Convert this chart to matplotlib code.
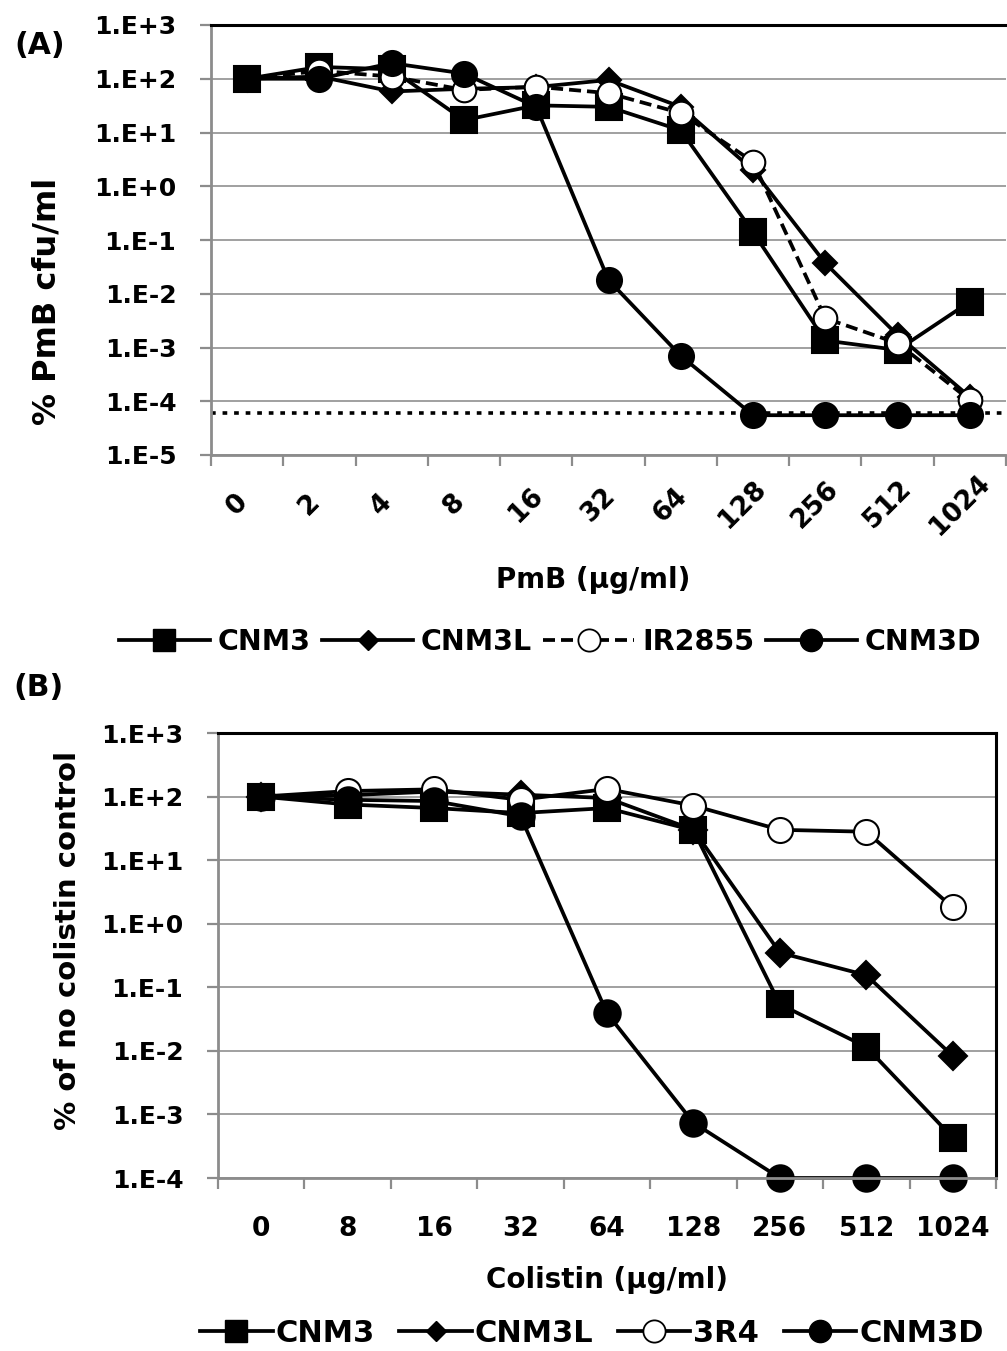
import numpy as np
import matplotlib
matplotlib.use("Agg")
import matplotlib.pyplot as plt
from matplotlib.ticker import NullLocator

plt.rcParams['font.family'] = ['DejaVu Sans']
plt.rcParams['font.weight'] = 'bold'

# Panel A: PmB
pmb_doses = ['0', '2', '4', '8', '16', '32', '64', '128', '256', '512', '1024']
a_cnm3 = [100, 166, 150, 17, 32, 30, 11, 0.14, 0.00135, 0.0009, 0.0071]
a_cnm3l = [100, 110, 58, 65, 70, 95, 30, 2.0, 0.037, 0.0017, 0.00012]
a_ir2855 = [100, 140, 110, 62, 71, 54, 23, 2.85, 0.0035, 0.0012, 0.000105]
a_cnm3d = [100, 100, 195, 125, 30, 0.018, 0.0007, 5.5e-5, 5.5e-5, 5.5e-5, 5.5e-5]
a_limit = 6e-5

# Panel B: colistin
col_doses = ['0', '8', '16', '32', '64', '128', '256', '512', '1024']
b_cnm3 = [100, 75, 66, 55, 66, 29.5, 0.054, 0.0115, 0.00043]
b_cnm3l = [100, 105, 120, 107, 95, 30, 0.35, 0.155, 0.0083]
b_3r4 = [100, 122, 130, 89, 132, 72, 30, 28, 1.8]
b_cnm3d = [100, 89, 85, 49, 0.039, 0.00074, 1e-4, 1e-4, 1e-4]

a_yticks = [1e-5, 1e-4, 1e-3, 1e-2, 1e-1, 1e0, 1e1, 1e2, 1e3]
a_ylabels = ['1.E-5', '1.E-4', '1.E-3', '1.E-2', '1.E-1', '1.E+0', '1.E+1', '1.E+2', '1.E+3']
b_yticks = a_yticks[1:]
b_ylabels = a_ylabels[1:]

W, H = 1007, 1351
fig = plt.figure(figsize=(W / 100, H / 100), dpi=100)

def box(l, t, r, b):
    return [l / W, 1 - b / H, (r - l) / W, (b - t) / H]

def fx(px):
    return px / W

def fy(py):
    return 1 - py / H

grey = '#8c8c8c'
lw = 2.7
dash = (0, (3.2, 1.6))

def style_axes(ax, right_spine):
    ax.set_yscale('log')
    ax.yaxis.set_minor_locator(NullLocator())
    ax.grid(axis='y', which='major', color='#a0a0a0', lw=1.4)
    ax.set_axisbelow(True)
    for s in ['left', 'bottom']:
        ax.spines[s].set_color(grey)
        ax.spines[s].set_linewidth(2.0)
    ax.spines['top'].set_color('black')
    ax.spines['top'].set_linewidth(2.2)
    if right_spine:
        ax.spines['right'].set_color('black')
        ax.spines['right'].set_linewidth(2.2)
    else:
        ax.spines['right'].set_visible(False)
    ax.tick_params(axis='both', which='major', direction='out', length=8, width=1.6,
                   color=grey, labelsize=18)
    ax.tick_params(axis='y', which='major', pad=17)

def draw(ax, x, series):
    for ys, name, mk, fc, ls, size in series:
        ax.plot(x, ys, color='black', lw=lw, ls=ls, marker=mk, ms=size,
                mfc=fc, mec='black', mew=1.5, label=name, clip_on=False)

def legend_handles(third_ls):
    return [
        plt.Line2D([], [], color='black', lw=lw, marker='s', ms=16),
        plt.Line2D([], [], color='black', lw=lw, marker='D', ms=10),
        plt.Line2D([], [], color='black', lw=lw, ls=third_ls, marker='o', ms=16,
                   mfc='white', mec='black', mew=1.3),
        plt.Line2D([], [], color='black', lw=lw, marker='o', ms=16),
    ]

# ---------- Panel A ----------
axA = fig.add_axes(box(211, 25, 1006, 455))
style_axes(axA, False)
xa = np.arange(len(pmb_doses))
axA.axhline(a_limit, color='black', lw=2.6, ls=(0, (1.3, 1.9)), zorder=1)
draw(axA, xa, [
    (a_cnm3, 'CNM3', 's', 'black', '-', 19),
    (a_cnm3l, 'CNM3L', 'D', 'black', '-', 12),
    (a_ir2855, 'IR2855', 'o', 'white', dash, 17),
    (a_cnm3d, 'CNM3D', 'o', 'black', '-', 18),
])
axA.set_xlim(-0.5, len(pmb_doses) - 0.5)
axA.set_ylim(1e-5, 1e3)
axA.set_yticks(a_yticks)
axA.set_yticklabels(a_ylabels)
axA.set_xticks(np.arange(len(pmb_doses) + 1) - 0.5)
axA.set_xticklabels([])
for i, lab in enumerate(pmb_doses):
    axA.text(i - 0.14, -0.116, lab, rotation=45, ha='center', va='center',
             fontsize=19, fontweight='bold', transform=axA.get_xaxis_transform())
fig.text(fx(593), fy(580), 'PmB (µg/ml)', fontsize=20, fontweight='bold',
         ha='center', va='center')
fig.text(fx(47), fy(301), '% PmB cfu/ml', fontsize=23, fontweight='bold',
         ha='center', va='center', rotation=90)
fig.text(fx(40), fy(45), '(A)', fontsize=21.5, fontweight='bold', ha='center', va='center')
fig.legend(handles=legend_handles(dash), labels=['CNM3', 'CNM3L', 'IR2855', 'CNM3D'],
           loc='center', bbox_to_anchor=(fx(550), fy(642)), ncol=4, frameon=False,
           fontsize=20.5, handlelength=3.2, handletextpad=0.27, columnspacing=0.4)

# ---------- Panel B ----------
axB = fig.add_axes(box(218, 733, 996, 1178))
style_axes(axB, True)
xb = np.arange(len(col_doses))
draw(axB, xb, [
    (b_cnm3, 'CNM3', 's', 'black', '-', 19),
    (b_cnm3l, 'CNM3L', 'D', 'black', '-', 14),
    (b_3r4, '3R4', 'o', 'white', '-', 18),
    (b_cnm3d, 'CNM3D', 'o', 'black', '-', 19),
])
axB.set_xlim(-0.5, len(col_doses) - 0.5)
axB.set_ylim(1e-4, 1e3)
axB.set_yticks(b_yticks)
axB.set_yticklabels(b_ylabels)
axB.set_xticks(np.arange(len(col_doses) + 1) - 0.5)
axB.set_xticklabels([])
axB.set_xticks(xb, col_doses, minor=True)
axB.tick_params(axis='x', which='minor', length=0, pad=27, labelsize=19)
fig.text(fx(607), fy(1280), 'Colistin (µg/ml)', fontsize=20, fontweight='bold',
         ha='center', va='center')
fig.text(fx(68), fy(940), '% of no colistin control', fontsize=21, fontweight='bold',
         ha='center', va='center', rotation=90)
fig.text(fx(38), fy(688), '(B)', fontsize=21.5, fontweight='bold', ha='center', va='center')
fig.legend(handles=legend_handles('-'), labels=['CNM3', 'CNM3L', '3R4', 'CNM3D'],
           loc='center', bbox_to_anchor=(fx(592), fy(1333)), ncol=4, frameon=False,
           fontsize=22, handlelength=2.37, handletextpad=0.1, columnspacing=0.8)

fig.savefig('out.png', dpi=100)
